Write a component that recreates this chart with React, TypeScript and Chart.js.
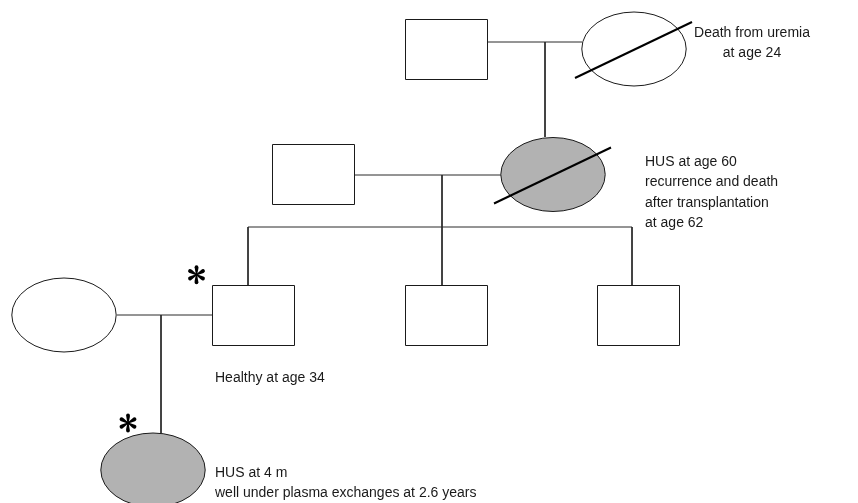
import React, { useEffect, useRef } from "react";
import { Chart, registerables } from "chart.js";

Chart.register(...registerables);

// Pedigree individuals (centre coordinates on the drawing grid)
const individualIds = ["I-1", "I-2", "II-1", "II-2", "III-1", "III-2", "III-3", "III-4", "IV-1"];
const individualX = [445.5, 634, 312.5, 553, 64, 252.5, 445.5, 637.5, 153];
const individualY = [48.5, 49, 174, 174.5, 315, 314.5, 315, 315, 470];
const individualSex = ["M", "F", "M", "F", "F", "M", "M", "M", "F"];
const individualAffected = [false, false, false, true, false, false, false, false, true];
const individualDeceased = [false, true, false, true, false, false, false, false, false];
const individualProband = [false, false, false, false, false, true, false, false, true];

// Connecting lines of the pedigree (x1, y1, x2, y2)
const connectorLines: number[][] = [
  [487, 42, 582, 42],
  [545, 42, 545, 137],
  [353, 175, 501, 175],
  [442, 175, 442, 227],
  [248, 227, 632, 227],
  [248, 227, 248, 285],
  [442, 227, 442, 285],
  [632, 227, 632, 285],
  [117, 315, 212, 315],
  [161, 315, 161, 433],
];

// Annotation texts
const noteLines: string[][] = [
  ["Death from uremia", "at age 24"],
  ["HUS at age 60", "recurrence and death", "after transplantation", "at age 62"],
  ["Healthy at age 34"],
  ["HUS at 4 m", "well under plasma exchanges at 2.6 years"],
];
const noteX = [752, 645, 215, 215];
const noteY = [37, 166, 381.5, 476.5];
const noteAlign: CanvasTextAlign[] = ["center", "left", "left", "left"];

const SQ_W = 82;
const SQ_H = 59.5;
const EL_RX = 52.2;
const EL_RY = 37;
const LINE_H = 20.3;

const pedigreePlugin = {
  id: "pedigree",
  afterDatasetsDraw(chart: any) {
    const ctx: CanvasRenderingContext2D = chart.ctx;
    const xs = chart.scales.x;
    const ys = chart.scales.y;
    const px = (v: number) => xs.getPixelForValue(v);
    const py = (v: number) => ys.getPixelForValue(v);
    ctx.save();
    for (let i = 0; i < individualIds.length; i++) {
      const cx = individualX[i];
      const cy = individualY[i];
      ctx.lineWidth = 1;
      ctx.strokeStyle = "#1a1a1a";
      ctx.fillStyle = individualAffected[i] ? "#b2b2b2" : "#ffffff";
      ctx.beginPath();
      if (individualSex[i] === "M") {
        const x0 = px(cx - SQ_W / 2);
        const x1 = px(cx + SQ_W / 2);
        const y0 = py(cy - SQ_H / 2);
        const y1 = py(cy + SQ_H / 2);
        ctx.rect(Math.round(x0) + 0.5, Math.round(y0) + 0.5, Math.round(x1 - x0), Math.round(y1 - y0));
      } else {
        const rx = Math.abs(px(cx + EL_RX) - px(cx));
        const ry = Math.abs(py(cy + EL_RY) - py(cy));
        ctx.ellipse(px(cx), py(cy), rx, ry, 0, 0, Math.PI * 2);
      }
      ctx.fill();
      ctx.stroke();
      if (individualDeceased[i]) {
        ctx.beginPath();
        ctx.lineWidth = 2;
        ctx.strokeStyle = "#000000";
        ctx.moveTo(px(cx - 59), py(cy + 29));
        ctx.lineTo(px(cx + 58), py(cy - 27));
        ctx.stroke();
      }
      if (individualProband[i]) {
        const ax = individualSex[i] === "M" ? cx - SQ_W / 2 - 15 : cx - 25;
        const ay = individualSex[i] === "M" ? cy - SQ_H / 2 - 10 : cy - EL_RY - 10;
        const r = 10;
        ctx.fillStyle = "#000000";
        for (let k = 0; k < 6; k++) {
          const a = -Math.PI / 2 + (k * Math.PI) / 3;
          const tx = px(ax) + Math.cos(a) * r;
          const ty = py(ay) + Math.sin(a) * r;
          const nx = -Math.sin(a);
          const ny = Math.cos(a);
          const mx = px(ax) + Math.cos(a) * r * 0.62;
          const my = py(ay) + Math.sin(a) * r * 0.62;
          ctx.beginPath();
          ctx.moveTo(px(ax) + nx * 0.6, py(ay) + ny * 0.6);
          ctx.lineTo(mx + nx * 1.9, my + ny * 1.9);
          ctx.arc(mx + Math.cos(a) * 1.3, my + Math.sin(a) * 1.3, 1.9, a + Math.PI / 2, a - Math.PI / 2, true);
          ctx.lineTo(px(ax) - nx * 0.6, py(ay) - ny * 0.6);
          ctx.closePath();
          ctx.fill();
          void tx; void ty;
        }
        ctx.beginPath();
        ctx.arc(px(ax), py(ay), 1.6, 0, Math.PI * 2);
        ctx.fill();
      }
    }
    ctx.fillStyle = "#1a1a1a";
    ctx.font = '14px "Liberation Sans", Arial, Helvetica, sans-serif';
    ctx.textBaseline = "alphabetic";
    for (let n = 0; n < noteLines.length; n++) {
      ctx.textAlign = noteAlign[n];
      noteLines[n].forEach((t, j) => {
        ctx.fillText(t, px(noteX[n]), py(noteY[n] + j * LINE_H));
      });
    }
    ctx.restore();
  },
};

export default function App() {
  const ref = useRef<HTMLCanvasElement | null>(null);
  useEffect(() => {
    if (!ref.current) return;
    const datasets = connectorLines.map((l) => ({
      type: "line" as const,
      data: [
        { x: l[0], y: l[1] },
        { x: l[2], y: l[3] },
      ],
      borderColor: "#2a2a2a",
      borderWidth: 1,
      pointRadius: 0,
      showLine: true,
      fill: false,
      tension: 0,
    }));
    const chart = new Chart(ref.current, {
      type: "scatter",
      data: { datasets },
      options: {
        animation: false,
        responsive: true,
        maintainAspectRatio: false,
        layout: { padding: 0 },
        events: [],
        scales: {
          x: { type: "linear", min: 0, max: 858, display: false },
          y: { type: "linear", min: 0, max: 503, reverse: true, display: false },
        },
        plugins: { legend: { display: false }, tooltip: { enabled: false } },
      },
      plugins: [pedigreePlugin],
    });
    return () => chart.destroy();
  }, []);
  return (
    <div style={{ position: "absolute", left: 0, top: 0, width: 858, height: 503, background: "#fff" }}>
      <canvas ref={ref} />
    </div>
  );
}
